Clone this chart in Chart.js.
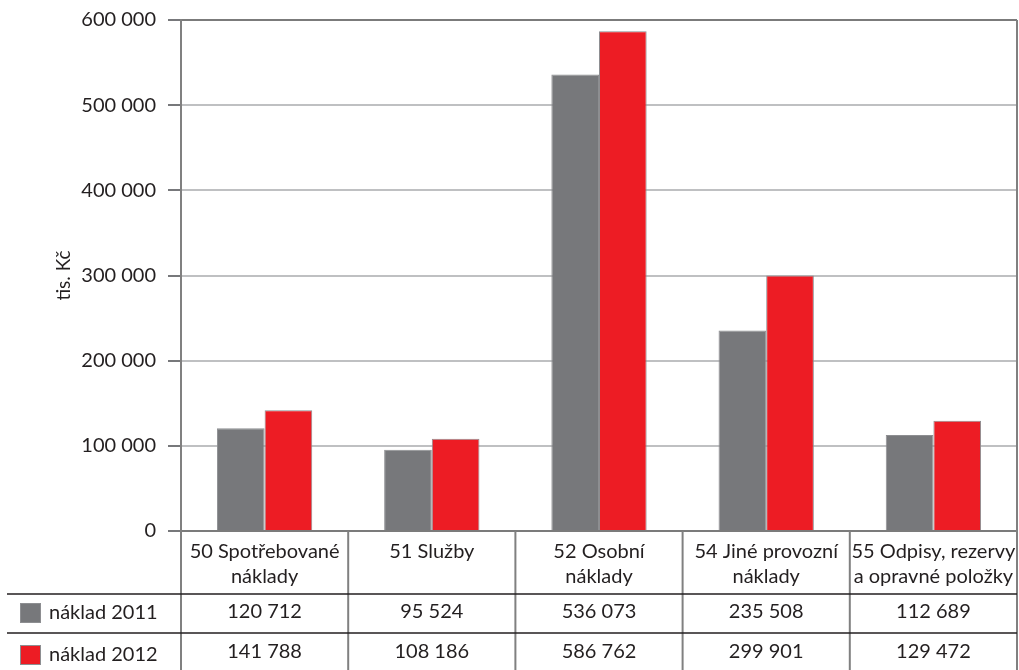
<!DOCTYPE html>
<html>
<head>
<meta charset="utf-8">
<script src="https://cdn.jsdelivr.net/npm/chart.js@4"></script>
<style>
  body { margin: 0; background: #fff; }
  #wrap { width: 1019px; height: 670px; position: relative; }
</style>
</head>
<body>
<div id="wrap"><canvas id="nakladyChart"></canvas></div>
<script>
// data
const categories = [
  ['50 Spotřebované', 'náklady'],
  ['51 Služby'],
  ['52 Osobní', 'náklady'],
  ['54 Jiné provozní', 'náklady'],
  ['55 Odpisy, rezervy', 'a opravné položky']
];
const seriesNames = ['náklad 2011', 'náklad 2012'];
const naklad2011 = [120712, 95524, 536073, 235508, 112689];
const naklad2012 = [141788, 108186, 586762, 299901, 129472];
const yTicks = [0, 100000, 200000, 300000, 400000, 500000, 600000];

const barColors = ['#77787b', '#ed1c24'];
const textColor = '#231f20';
const fontFam = 'Lato, "DejaVu Sans", sans-serif';

// číslo s mezerou jako oddělovačem tisíců
function fmt(v) {
  return String(v).replace(/\B(?=(\d{3})+(?!\d))/g, ' ');
}

// tabulka pod grafem (hlavička, hodnoty, legenda)
const dataTablePlugin = {
  id: 'dataTable',
  afterDraw(chart) {
    const ctx = chart.ctx;
    const area = chart.chartArea;
    const xs = chart.scales.x;
    const n = categories.length;
    const colW = (area.right - area.left) / n;
    const yTop = area.bottom;
    const headBottom = yTop + 63;
    const row1Bottom = headBottom + 39;
    const H = chart.height;
    const rows = [naklad2011, naklad2012];

    ctx.save();
    // svislé čáry
    ctx.strokeStyle = '#808080';
    ctx.lineWidth = 2;
    ctx.beginPath();
    ctx.moveTo(area.right, area.top);
    ctx.lineTo(area.right, H);
    ctx.moveTo(area.left, yTop);
    ctx.lineTo(area.left, H);
    for (let i = 1; i < n; i++) {
      const bx = area.left + i * colW;
      ctx.moveTo(bx, yTop);
      ctx.lineTo(bx, H);
    }
    ctx.stroke();

    // vodorovné čáry
    ctx.strokeStyle = textColor;
    ctx.lineWidth = 1.5;
    ctx.beginPath();
    ctx.moveTo(7, headBottom);
    ctx.lineTo(area.right, headBottom);
    ctx.moveTo(7, row1Bottom);
    ctx.lineTo(area.right, row1Bottom);
    ctx.stroke();

    ctx.fillStyle = textColor;
    ctx.font = '20px ' + fontFam;
    ctx.textAlign = 'center';
    ctx.textBaseline = 'middle';
    categories.forEach((lines, i) => {
      const cx = xs.getPixelForValue(i);
      lines.forEach((t, k) => ctx.fillText(t, cx, yTop + 21 + k * 25));
      ctx.fillText(fmt(rows[0][i]), cx, headBottom + 18);
      ctx.fillText(fmt(rows[1][i]), cx, row1Bottom + 19);
    });

    // legenda v prvním sloupci
    const rowCenters = [headBottom + 19, row1Bottom + 22];
    seriesNames.forEach((name, s) => {
      const cy = rowCenters[s];
      ctx.fillStyle = barColors[s];
      ctx.fillRect(20, cy - 10, 21, 20);
      ctx.strokeStyle = '#8d8e91';
      ctx.lineWidth = 1;
      ctx.strokeRect(20.5, cy - 9.5, 20, 19);
      ctx.fillStyle = textColor;
      ctx.textAlign = 'left';
      ctx.fillText(name, 49, cy);
    });
    ctx.restore();
  }
};

const ctx1 = document.getElementById('nakladyChart').getContext('2d');
new Chart(ctx1, {
  type: 'bar',
  data: {
    labels: categories,
    datasets: [{
      label: seriesNames[0],
      data: naklad2011,
      backgroundColor: barColors[0],
      borderColor: '#8d8e91',
      borderWidth: 1
    }, {
      label: seriesNames[1],
      data: naklad2012,
      backgroundColor: barColors[1],
      borderColor: '#8d8e91',
      borderWidth: 1
    }]
  },
  options: {
    responsive: true,
    maintainAspectRatio: false,
    animation: false,
    layout: { padding: { left: 48, right: 2, top: 20, bottom: 139 } },
    datasets: { bar: { categoryPercentage: 0.57, barPercentage: 1.0 } },
    plugins: {
      legend: { display: false },
      tooltip: { enabled: false }
    },
    scales: {
      x: { display: false },
      y: {
        min: 0,
        max: 600000,
        afterFit(scale) {
          scale.width = 133;
          scale.paddingTop = 0;
          scale.paddingBottom = 0;
        },
        afterBuildTicks(scale) { scale.ticks = yTicks.map(v => ({ value: v })); },
        border: { color: '#808080', width: 2 },
        grid: {
          color: c => (c.tick && (c.tick.value === 600000 || c.tick.value === 0)) ? '#7b7b7b' : '#bfc0c2',
          lineWidth: 2,
          tickLength: 13,
          tickColor: '#77787b'
        },
        ticks: {
          padding: 12,
          color: textColor,
          font: { family: fontFam, size: 20 },
          callback: v => fmt(v)
        },
        title: {
          display: true,
          text: 'tis. Kč',
          color: textColor,
          font: { family: fontFam, size: 19 },
          padding: { top: 4, bottom: 4 }
        }
      }
    }
  },
  plugins: [dataTablePlugin]
});
</script>
</body>
</html>
